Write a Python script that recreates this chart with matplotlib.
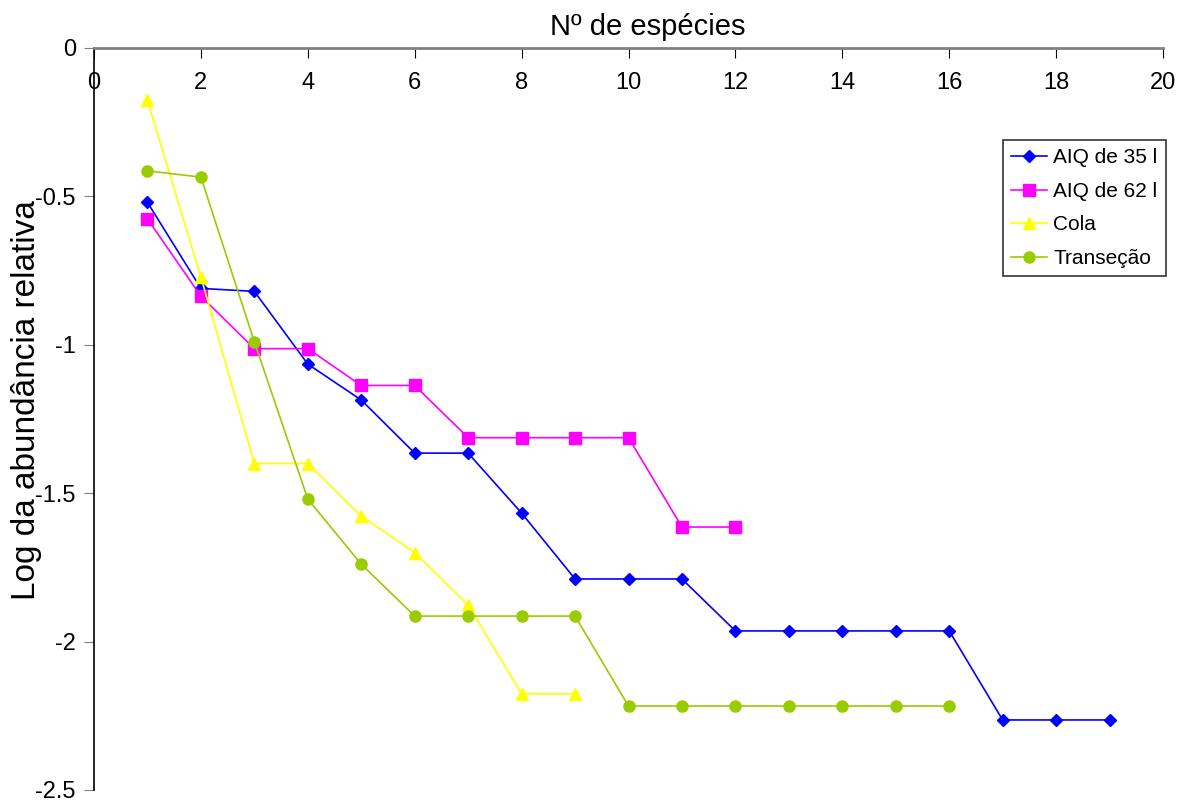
import matplotlib.pyplot as plt
import numpy as np

plt.rcParams['font.family'] = ['Liberation Sans', 'DejaVu Sans']

x_35 = list(range(1, 20))
y_35 = [-0.52, -0.81, -0.82, -1.065, -1.186, -1.365, -1.365, -1.567, -1.789, -1.789,
        -1.789, -1.964, -1.964, -1.964, -1.964, -1.964, -2.264, -2.264, -2.264]

x_62 = list(range(1, 13))
y_62 = [-0.576, -0.836, -1.013, -1.013, -1.137, -1.137, -1.313, -1.313, -1.313, -1.313,
        -1.614, -1.614]

x_cola = list(range(1, 10))
y_cola = [-0.176, -0.772, -1.40, -1.40, -1.577, -1.70, -1.877, -2.176, -2.176]

x_tr = list(range(1, 17))
y_tr = [-0.414, -0.435, -0.99, -1.52, -1.739, -1.914, -1.914, -1.914, -1.914, -2.217,
        -2.217, -2.217, -2.217, -2.217, -2.217, -2.217]

series = [
    (x_35, y_35, 'AIQ de 35 l', '#0000FF', 'D', 6),
    (x_62, y_62, 'AIQ de 62 l', '#FF00FF', 's', 8),
    (x_cola, y_cola, 'Cola', '#FFFF00', '^', 8),
    (x_tr, y_tr, 'Transeção', '#99CC00', 'o', 8),
]

fig = plt.figure(figsize=(11.81, 8), dpi=100)
ax = fig.add_axes([94/1181, 10/800, (1163-94)/1181, (790-48)/800])

for xs, ys, lab, col, mk, ms in series:
    ax.plot(xs, ys, color=col, marker=mk, markersize=ms, linewidth=1.2, label=lab)

ax.set_xlim(0, 20)
ax.set_ylim(-2.5, 0)
ax.set_xticks(np.arange(0, 21, 2))
ax.set_yticks([0, -0.5, -1, -1.5, -2, -2.5])
ax.set_yticklabels(['0', '-0.5', '-1', '-1.5', '-2', '-2.5'])

ax.spines['right'].set_visible(False)
ax.spines['bottom'].set_visible(False)
ax.spines['top'].set_color('#808080')
ax.spines['top'].set_linewidth(2)
ax.spines['left'].set_color('black')
ax.spines['left'].set_linewidth(1.2)

ax.xaxis.tick_top()
ax.tick_params(axis='x', direction='in', length=7, color='black', labelsize=17, pad=-17)
ax.tick_params(axis='y', direction='out', length=7, color='#808080', labelsize=17, pad=6)
for t in ax.get_xticklabels():
    t.set_verticalalignment('top')

fig.text(648/1181, 1 - 27/800, 'Nº de espécies', fontsize=21, ha='center', va='center')
fig.text(27/1181, 1 - 400/800, 'Log da abundância relativa', fontsize=24,
         ha='center', va='center', rotation=90)

leg = ax.legend(loc='upper left', bbox_to_anchor=(1003/1181, 1 - 140/800),
                bbox_transform=fig.transFigure, fontsize=15, frameon=True,
                fancybox=False, edgecolor='black', handlelength=1.7,
                labelspacing=0.7, borderpad=0.4, handletextpad=0.3,
                borderaxespad=0)
leg.get_frame().set_linewidth(1.2)

fig.savefig('out.png', dpi=100)
